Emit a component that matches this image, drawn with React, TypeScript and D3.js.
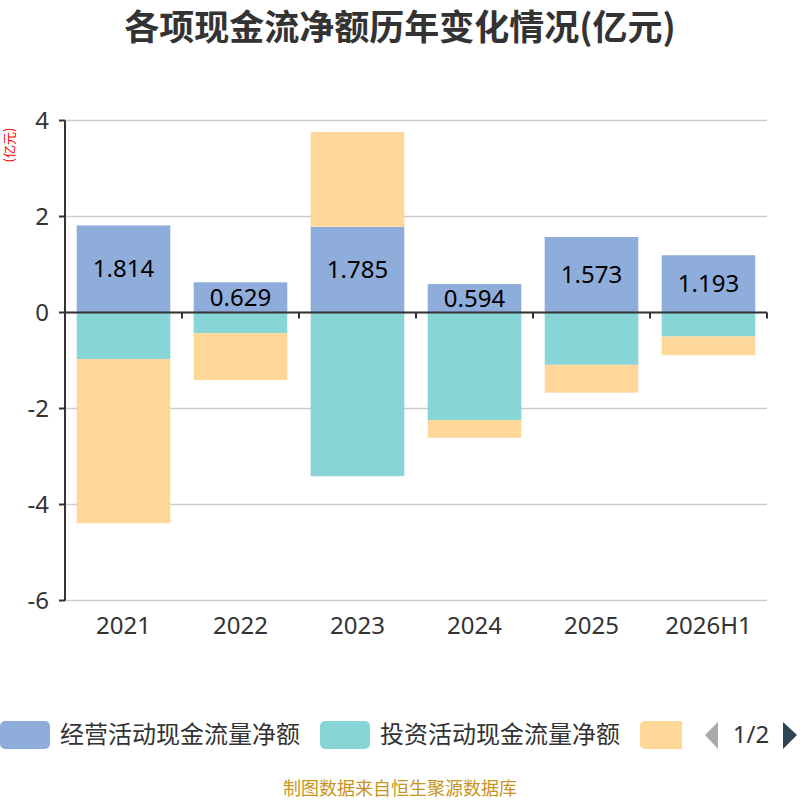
import * as d3 from "d3";

const years = ["2021", "2022", "2023", "2024", "2025", "2026H1"];
const seriesNames = ["经营活动现金流量净额", "投资活动现金流量净额", "筹资活动现金流量净额"];
const operating = [1.814, 0.629, 1.785, 0.594, 1.573, 1.193];
const investing = [-0.97, -0.43, -3.41, -2.24, -1.09, -0.5];
const financing = [-3.42, -0.98, 1.975, -0.37, -0.58, -0.39];
const yTicks = [-6, -4, -2, 0, 2, 4];
const colors = ["#8FADDA", "#88D5D8", "#FFD899"];

const width = 800;
const height = 800;
const marginTop = 120.5;
const marginBottom = 199.5;
const marginLeft = 65;
const marginRight = 33;

const font = "'Noto Sans', 'Noto Sans CJK SC', sans-serif";
const cjk = "'Noto Sans CJK SC', sans-serif";

export default function App() {
  const x = d3.scaleBand().domain(years).range([marginLeft, width - marginRight]).paddingInner(0.2).paddingOuter(0.1);
  const band = d3.scaleBand().domain(years).range([marginLeft, width - marginRight]);
  const y = d3.scaleLinear().domain([-6, 4]).range([height - marginBottom, marginTop]);

  const rows = years.map((year, i) => ({ year, s0: operating[i], s1: investing[i], s2: financing[i] }));
  const stacked = d3.stack<any>().keys(["s0", "s1", "s2"]).offset(d3.stackOffsetDiverging)(rows);

  return (
    <svg
      width={width}
      height={height}
      style={{ position: "absolute", left: 0, top: 0, display: "block" }}
      viewBox={`0 0 ${width} ${height}`}
    >
      <text x={400} y={40} textAnchor="middle" fontSize={35} fontWeight="bold" fill="#333" fontFamily={cjk}>
        各项现金流净额历年变化情况(亿元)
      </text>
      <text transform="translate(14,145) rotate(-90)" textAnchor="middle" fontSize={13} fill="#ff0000" fontFamily={cjk}>
        (亿元)
      </text>

      {/* grid */}
      {yTicks.map((t) => (
        <g key={t}>
          <line x1={marginLeft} x2={width - marginRight} y1={y(t)} y2={y(t)} stroke="#ccc" strokeWidth={1.5} />
          <line x1={marginLeft - 6} x2={marginLeft} y1={y(t)} y2={y(t)} stroke="#333" strokeWidth={2} />
          <text x={49} y={y(t)} dy="0.35em" textAnchor="end" fontSize={24} fill="#333" fontFamily={font}>
            {t}
          </text>
        </g>
      ))}

      {/* bars */}
      {stacked.map((layer, si) => (
        <g key={si} fill={colors[si]}>
          {layer.map((d, i) => (
            <rect
              key={i}
              x={x(years[i])}
              width={x.bandwidth()}
              y={y(Math.max(d[0], d[1]))}
              height={Math.abs(y(d[0]) - y(d[1]))}
            />
          ))}
        </g>
      ))}

      {/* labels of operating */}
      {operating.map((v, i) => (
        <text
          key={i}
          x={(x(years[i]) as number) + x.bandwidth() / 2}
          y={(y(v) + y(0)) / 2}
          dy="0.35em"
          textAnchor="middle"
          fontSize={24}
          fill="#000"
          fontFamily={font}
        >
          {v.toFixed(3)}
        </text>
      ))}

      {/* axes */}
      <line x1={marginLeft} x2={marginLeft} y1={marginTop} y2={height - marginBottom} stroke="#333" strokeWidth={2} />
      <line x1={marginLeft} x2={width - marginRight} y1={y(0)} y2={y(0)} stroke="#333" strokeWidth={2} />
      {years.map((yr) => (
        <line
          key={yr}
          x1={(band(yr) as number) + band.bandwidth()}
          x2={(band(yr) as number) + band.bandwidth()}
          y1={y(0)}
          y2={y(0) + 6}
          stroke="#333"
          strokeWidth={2}
        />
      ))}
      {years.map((yr) => (
        <text
          key={yr}
          x={(band(yr) as number) + band.bandwidth() / 2}
          y={634}
          textAnchor="middle"
          fontSize={24}
          fill="#333"
          fontFamily={font}
        >
          {yr}
        </text>
      ))}

      {/* legend */}
      <rect x={0} y={721} width={50} height={28} rx={5} fill={colors[0]} />
      <text x={60} y={735} dy="0.35em" fontSize={24} fill="#333" fontFamily={cjk}>
        {seriesNames[0]}
      </text>
      <rect x={320} y={721} width={50} height={28} rx={5} fill={colors[1]} />
      <text x={380} y={735} dy="0.35em" fontSize={24} fill="#333" fontFamily={cjk}>
        {seriesNames[1]}
      </text>
      <clipPath id="lg">
        <rect x={0} y={700} width={682} height={60} />
      </clipPath>
      <g clipPath="url(#lg)">
        <rect x={640} y={721} width={50} height={28} rx={5} fill={colors[2]} />
      </g>
      <path d="M718,722 L705,735 L718,749 Z" fill="#aaa" />
      <text x={751} y={735} dy="0.35em" textAnchor="middle" fontSize={24} fill="#333" fontFamily={font}>
        1/2
      </text>
      <path d="M783,722 L797,735 L783,749 Z" fill="#2f4554" />

      <text x={400} y={795} textAnchor="middle" fontSize={18} fill="#c8941e" fontFamily={cjk}>
        制图数据来自恒生聚源数据库
      </text>
    </svg>
  );
}
